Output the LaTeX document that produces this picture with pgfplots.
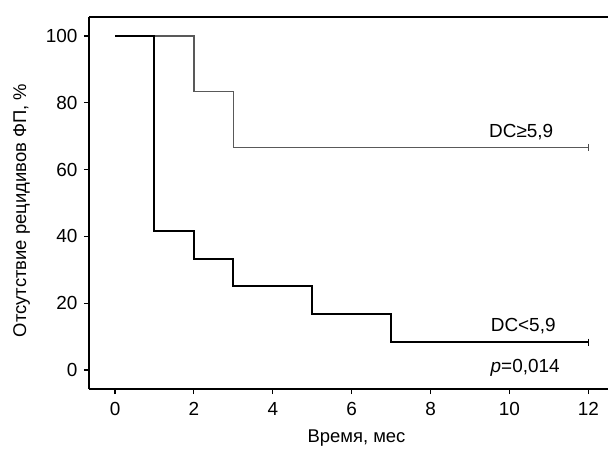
\documentclass[border=0pt]{standalone}
\usepackage{pgfplots}
\pgfplotsset{compat=1.18}
\usepackage{fontspec}
\setmainfont{Liberation Sans}
\begin{document}
\begin{tikzpicture}
\begin{axis}[
  name=ax,
  scale only axis,
  width=519bp, height=372bp,
  xmin=-0.66, xmax=12.5, ymin=-5.7, ymax=105.7,
  axis x line*=bottom, axis y line*=left,
  axis line style={line width=1.3bp, -},
  xtick={0,2,...,12}, ytick={0,20,...,100},
  tick style={line width=1.1bp, black},
  tick align=outside, major tick length=5bp,
  tick label style={font=\fontsize{19}{21}\selectfont},
  xticklabel style={yshift=-5bp},
  yticklabel style={xshift=-3bp},
  /pgf/number format/assume math mode=true,
  xlabel={Время, мес},
  ylabel={Отсутствие рецидивов ФП, \%},
  label style={font=\fontsize{18.5}{21}\selectfont},
  xlabel style={at={([xshift=8bp,yshift=-7bp]ticklabel cs:0.5)}},
  ylabel style={at={([xshift=-9bp]ticklabel cs:0.48)}},
  clip=false,
]
\draw[line width=1.3bp] (rel axis cs:0,1) -- (rel axis cs:1,1);
% DC >= 5,9
\addplot[const plot, gray!70!black, line width=1.5bp] coordinates {
  (0,100) (2,83.33) (3,66.67) (12,66.67)};
% DC < 5,9
\addplot[const plot, black, line width=2bp] coordinates {
  (0,100) (1,41.67) (2,33.33) (3,25) (5,16.67) (7,8.33) (12,8.33)};
% censor marks
\addplot[only marks, mark=|, mark size=3.5bp, gray!60!black, mark options={line width=1bp}] coordinates {(12,66.67)};
\addplot[only marks, mark=|, mark size=3.5bp, black, mark options={line width=1bp}] coordinates {(12,8.33)};
\node[font=\fontsize{19}{21}\selectfont] at (axis cs:10.3,71.3) {DC≥5,9};
\node[font=\fontsize{19}{21}\selectfont] at (axis cs:10.35,13.2) {DC<5,9};
\node[font=\fontsize{19}{21}\selectfont] at (axis cs:10.4,0.6) {\textit{p}=0,014};
\end{axis}
\pgfresetboundingbox
\path[use as bounding box] ([shift={(-89bp,-63bp)}]ax.south west) rectangle ([shift={(0bp,17bp)}]ax.north east);
\end{tikzpicture}
\end{document}
